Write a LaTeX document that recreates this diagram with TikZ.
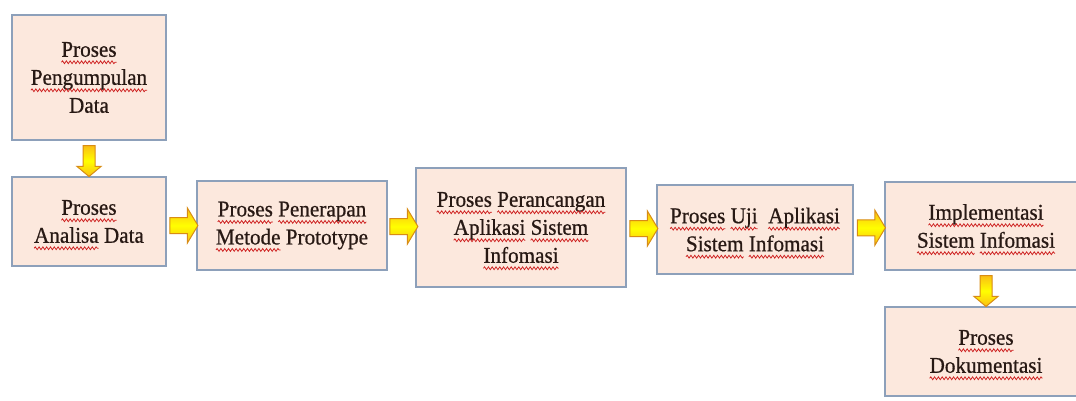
\documentclass[tikz,border=0pt]{standalone}
\usepackage{fontspec}
\setmainfont[FakeStretch=0.94,FakeBold=0.7]{Liberation Serif}
\usetikzlibrary{shapes.arrows,calc,decorations.pathmorphing}
\definecolor{boxfill}{RGB}{252,232,221}
\definecolor{boxline}{RGB}{141,160,186}
\definecolor{arrline}{RGB}{216,140,20}
\definecolor{arrdark}{RGB}{250,190,20}
\definecolor{wavered}{RGB}{205,30,30}
\definecolor{textcol}{RGB}{40,25,20}
\tikzset{wordbox/.style={draw=none,fill=none,shape=rectangle,minimum width=0pt,minimum height=0pt,
  inner sep=0pt,outer sep=0pt,align=left,line width=0.4pt}}
\newcommand\rw[1]{\tikz[baseline=(w.base),x=1cm,y=1cm]{\node[wordbox] (w) {#1};
  \draw[overlay,wavered,line width=0.75pt,decorate,decoration={snake,amplitude=1.4pt,segment length=3.8pt}]
    ($(w.base west)+(0pt,-5.5pt)$) -- ($(w.base east)+(0pt,-5.5pt)$);}}
\begin{document}
\begin{tikzpicture}[x=1pt,y=-1pt,
  procbox/.style={draw=boxline,line width=1.1pt,fill=boxfill,align=center,inner sep=0pt,
    text=textcol,font=\fontsize{22.5}{28}\selectfont},
  blockarr/.style={single arrow,draw=arrline,line width=1pt,shading=axis,
    top color=arrdark,bottom color=arrdark,middle color=yellow,inner sep=0pt,outer sep=0pt},
  harr/.style={blockarr,minimum height=28pt,inner ysep=7.5pt,inner xsep=0pt,
    single arrow head extend=9.5pt,single arrow tip angle=118},
  varr/.style={blockarr,rotate=-90,minimum height=31pt,inner ysep=5.5pt,inner xsep=0pt,
    single arrow head extend=6pt,single arrow tip angle=100}
]
\useasboundingbox (0,0) rectangle (1076,401);
\clip (0,0) rectangle (1076,401);
\fill[white] (0,0) rectangle (1076,401);
\newcommand\bx[6]{\node[procbox,minimum width={#4-#2},minimum height={#5-#3}] (#1) at ({(#2+#4)/2},{(#3+#5)/2}) {#6};}
\bx{b1}{12}{15}{166}{140}{\rw{Proses}\\\rw{Pengumpulan}\\Data}
\bx{b2}{12}{177}{166}{266}{\rw{Proses}\\\rw{Analisa} Data}
\bx{b3}{197}{181}{387}{270}{\rw{Proses} \rw{Penerapan}\\\rw{Metode} Prototype}
\bx{b4}{416}{168}{626}{287}{\rw{Proses} \rw{Perancangan}\\\rw{Aplikasi} \rw{Sistem}\\\rw{Infomasi}}
\bx{b5}{657}{185}{853}{274}{\rw{Proses} \rw{Uji}\ \ \rw{Aplikasi}\\\rw{Sistem} \rw{Infomasi}}
\bx{b6}{885}{182}{1087}{270}{\rw{Implementasi}\\\rw{Sistem} \rw{Infomasi}}
\bx{b7}{885}{307}{1087}{396}{\rw{Proses}\\\rw{Dokumentasi}}
\node[varr] (a1) at ($(b1.south)!0.5!(b2.north)$) {};
\node[harr] (a2) at ($(b2.east)!0.5!(b3.west)+(0,2)$) {};
\node[harr] (a3) at ($(b3.east)!0.5!(b4.west)$) {};
\node[harr] (a4) at ($(b4.east)!0.5!(b5.west)$) {};
\node[harr] (a5) at ($(b5.east)!0.5!(b6.west)$) {};
\node[varr] (a6) at ($(b6.south)!0.5!(b7.north)$) {};
\end{tikzpicture}
\end{document}
